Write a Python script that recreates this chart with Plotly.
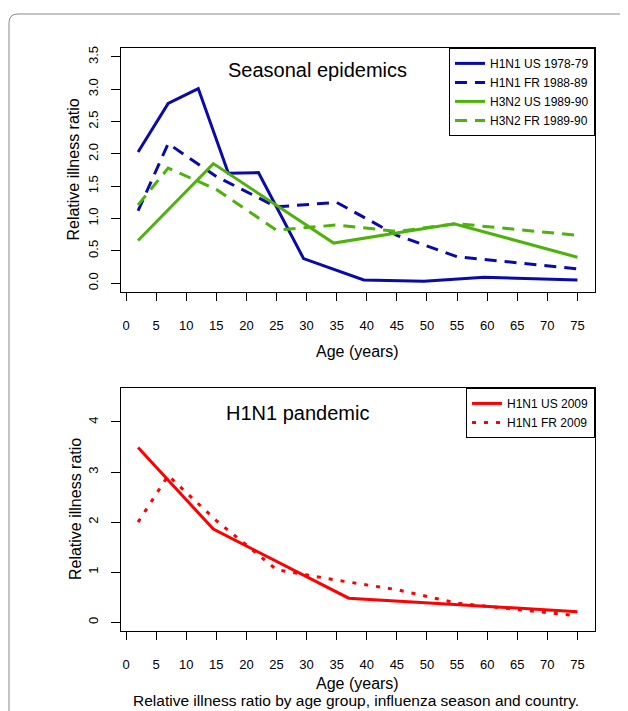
import plotly.graph_objects as go

# The page body adds an 8px margin, so the figure is sized to the remaining area
OFF = 8
W, H = 628 - OFF, 711 - OFF

# ---------------- data ----------------
age_ticks = list(range(0, 80, 5))

# Seasonal epidemics
us_1978_age = [2, 7, 12, 17, 22, 29.5, 39.5, 49.5, 59.5, 75]
h1n1_us_1978 = [2.03, 2.78, 3.01, 1.70, 1.71, 0.38, 0.05, 0.03, 0.09, 0.05]

fr_age = [2, 7, 15, 25, 35, 45, 55, 65, 75]
h1n1_fr_1988 = [1.12, 2.16, 1.65, 1.18, 1.25, 0.74, 0.41, 0.31, 0.22]

us_1989_age = [2, 14.5, 34.5, 54.5, 75]
h3n2_us_1989 = [0.66, 1.85, 0.62, 0.92, 0.40]

h3n2_fr_1989 = [1.21, 1.78, 1.45, 0.82, 0.90, 0.80, 0.92, 0.83, 0.74]

# H1N1 pandemic
us_2009_age = [2, 14.5, 37, 57, 75]
h1n1_us_2009 = [3.49, 1.86, 0.48, 0.34, 0.21]
h1n1_fr_2009 = [2.00, 2.93, 2.03, 1.05, 0.84, 0.65, 0.38, 0.25, 0.13]

top_yticks = [0, 0.5, 1.0, 1.5, 2.0, 2.5, 3.0, 3.5]
bot_yticks = [0, 1, 2, 3, 4]

BLUE = "#0A0AAA"
GREEN = "#4DB30A"
RED = "#FF0000"
FONT = "Liberation Sans, Arial, Helvetica, sans-serif"


def px_x(p):
    return (p - OFF) / W


def px_y(p):
    return 1 - (p - OFF) / H


fig = go.Figure()

fig.add_trace(go.Scatter(x=us_1978_age, y=h1n1_us_1978, mode="lines", name="H1N1 US 1978-79",
                         line=dict(color=BLUE, width=3), xaxis="x", yaxis="y", legend="legend"))
fig.add_trace(go.Scatter(x=fr_age, y=h1n1_fr_1988, mode="lines", name="H1N1 FR 1988-89",
                         line=dict(color=BLUE, width=3, dash="12px,8px"), xaxis="x", yaxis="y", legend="legend"))
fig.add_trace(go.Scatter(x=us_1989_age, y=h3n2_us_1989, mode="lines", name="H3N2 US 1989-90",
                         line=dict(color=GREEN, width=3), xaxis="x", yaxis="y", legend="legend"))
fig.add_trace(go.Scatter(x=fr_age, y=h3n2_fr_1989, mode="lines", name="H3N2 FR 1989-90",
                         line=dict(color=GREEN, width=3, dash="12px,8px"), xaxis="x", yaxis="y", legend="legend"))

fig.add_trace(go.Scatter(x=us_2009_age, y=h1n1_us_2009, mode="lines", name="H1N1 US 2009",
                         line=dict(color=RED, width=3), xaxis="x2", yaxis="y2", legend="legend2"))
fig.add_trace(go.Scatter(x=fr_age, y=h1n1_fr_2009, mode="lines", name="H1N1 FR 2009",
                         line=dict(color=RED, width=3, dash="4px,8px"), xaxis="x2", yaxis="y2", legend="legend2"))

xdom = [px_x(120.5), px_x(595)]
top_ydom = [px_y(291), px_y(46)]
bot_ydom = [px_y(631), px_y(387)]

xcommon = dict(domain=xdom, range=[-0.92, 77.92], tickmode="array", tickvals=age_ticks,
               ticks="outside", ticklen=8, tickwidth=1, tickcolor="black",
               showline=True, mirror=True, linecolor="black", linewidth=1,
               showgrid=False, zeroline=False, ticklabelstandoff=13,
               tickfont=dict(family=FONT, size=13, color="black"))
ycommon = dict(ticks="outside", ticklen=9, tickwidth=1, tickcolor="black",
               showline=True, mirror=True, linecolor="black", linewidth=1,
               showgrid=False, zeroline=False, tickangle=-90, ticklabelstandoff=7,
               tickfont=dict(family=FONT, size=13, color="black"))

fig.update_layout(
    width=W, height=H,
    margin=dict(l=0, r=0, t=0, b=0),
    paper_bgcolor="white", plot_bgcolor="white",
    font=dict(family=FONT, color="black"),
    xaxis=dict(**xcommon, anchor="y"),
    yaxis=dict(**ycommon, domain=top_ydom, range=[-0.14, 3.64], tickvals=top_yticks,
               tickformat=".1f", anchor="x"),
    xaxis2=dict(**xcommon, anchor="y2"),
    yaxis2=dict(**ycommon, domain=bot_ydom, range=[-0.18, 4.68], tickvals=bot_yticks,
                anchor="x2"),
    legend=dict(x=xdom[1], xanchor="right", y=top_ydom[1], yanchor="top",
                bordercolor="black", borderwidth=1, bgcolor="white",
                font=dict(family=FONT, size=12, color="black"), itemwidth=30,
                tracegroupgap=0, itemclick=False),
    legend2=dict(x=xdom[1], xanchor="right", y=bot_ydom[1], yanchor="top",
                 bordercolor="black", borderwidth=1, bgcolor="white",
                 font=dict(family=FONT, size=12, color="black"), itemwidth=30,
                 tracegroupgap=0, itemclick=False),
    showlegend=True,
)

annotations = [
    dict(text="Seasonal epidemics", x=px_x(317), y=px_y(68), font=dict(size=20)),
    dict(text="H1N1 pandemic", x=px_x(297), y=px_y(412), font=dict(size=20)),
    dict(text="Relative illness ratio", x=px_x(73.5), y=px_y(168.5), textangle=-90, font=dict(size=16)),
    dict(text="Relative illness ratio", x=px_x(75), y=px_y(508.5), textangle=-90, font=dict(size=16)),
    dict(text="Age (years)", x=px_x(357.5), y=px_y(350), font=dict(size=16)),
    dict(text="Age (years)", x=px_x(357.5), y=px_y(683), font=dict(size=16)),
    dict(text="Relative illness ratio by age group, influenza season and country.",
         x=px_x(356), y=px_y(700), font=dict(size=15.5)),
]
for a in annotations:
    a.update(xref="paper", yref="paper", showarrow=False, xanchor="center", yanchor="middle")
    a["font"].update(family=FONT, color="black")
fig.update_layout(annotations=annotations)

# rounded outer frame (top-left corner visible)
x0 = px_x(9)
yt = px_y(12)
rx, ry = 9 / W, 9 / H
fig.add_shape(type="path", xref="paper", yref="paper",
              path=f"M {x0},-0.2 L {x0},{yt - ry} Q {x0},{yt} {x0 + rx},{yt} L 1.2,{yt}",
              line=dict(color="#8a8a8a", width=1))

fig.write_html("out.html")
